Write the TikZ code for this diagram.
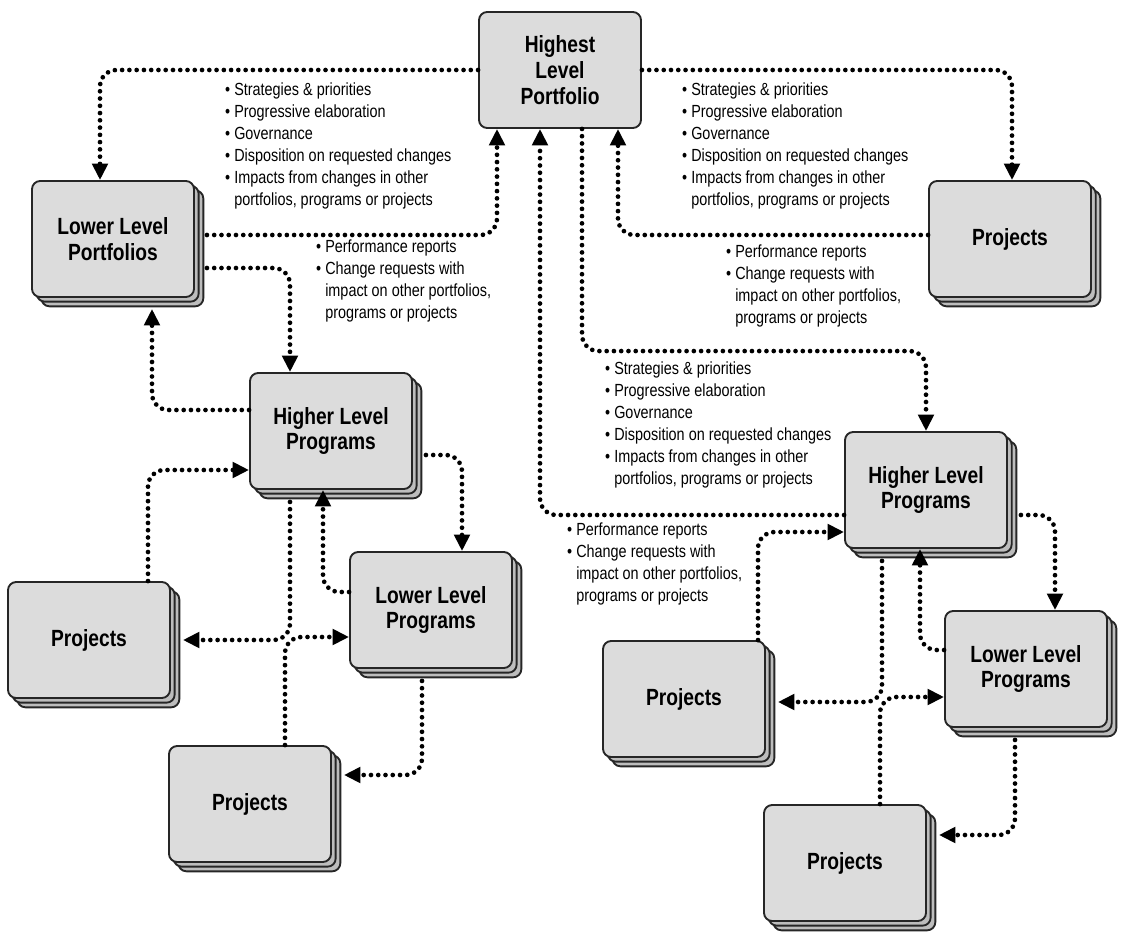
\documentclass[tikz,border=0pt]{standalone}
\usepackage{fontspec}
\setmainfont{Liberation Sans}[FakeStretch=0.82]
\usetikzlibrary{arrows.meta,calc,shadows}
\definecolor{boxfill}{HTML}{DCDCDC}
\definecolor{backfill}{HTML}{BDBDBD}
\begin{document}
\begin{tikzpicture}[x=0.03cm,y=-0.03cm,
  box/.style={draw=black!85,line width=1.6pt,rounded corners=7pt,fill=boxfill,
    minimum width=4.86cm,minimum height=3.48cm,align=center,
    font=\fontsize{20}{22}\selectfont\bfseries},
  stack/.style={box,double copy shadow={shadow xshift=0.14cm,shadow yshift=-0.14cm,
    fill=backfill,draw=black!85,line width=1.6pt}},
  con/.style={line width=4pt,line cap=round,dash pattern=on 0pt off 6.2pt,
    rounded corners=14pt,-{Triangle[length=14pt,width=13pt]}},
  lst/.style={anchor=north west,align=left,inner sep=0pt,
    font=\fontsize{15}{18.7}\selectfont}]
\useasboundingbox (0,0) rectangle (1130,932);
% nodes
\node[box] (hp) at (560,70) {Highest\\Level\\Portfolio};
\node[stack] (llp) at (113,239) {Lower Level\\Portfolios};
\node[stack] (ptr) at (1010,239) {Projects};
\node[stack] (hlpl) at (331,431) {Higher Level\\Programs};
\node[stack] (llpl) at (431,610) {Lower Level\\Programs};
\node[stack] (pl) at (89,640) {Projects};
\node[stack] (pbl) at (250,804) {Projects};
\node[stack] (hlpr) at (926,490) {Higher Level\\Programs};
\node[stack] (llpr) at (1026,669) {Lower Level\\Programs};
\node[stack] (prm) at (684,699) {Projects};
\node[stack] (pbr) at (845,863) {Projects};
% connectors
\draw[con] (hp.west) -| ($(llp.north)+(-13,0)$);
\draw[con] ($(llp.east)+(12,-4)$) -| ($(hp.south)+(-63,0)$);
\draw[con] (hp.east) -| ($(ptr.north)+(2,0)$);
\draw[con] ($(ptr.west)+(0,-4)$) -| ($(hp.south)+(58,0)$);
\draw[con] ($(llp.east)+(12,29)$) -| ($(hlpl.north)+(-41,0)$);
\draw[con] ($(hlpl.west)+(0,-21)$) -| ($(llp.south)+(39,11)$);
\draw[con] ($(hp.south)+(22,0)$) |- ($(hlpr.north)+(0,-80)$) -- (hlpr.north);
\draw[con] ($(hlpr.west)+(0,25)$) -| ($(hp.south)+(-20,0)$);
\draw[con] ($(hlpl.east)+(13,24)$) -| ($(llpl.north)+(31,0)$);
\draw[con] ($(llpl.west)+(0,-18)$) -| ($(hlpl.south)+(-8,0)$);
\draw[con] ($(pl.north)+(59,0)$) |- ($(hlpl.west)+(0,39)$);
\draw[con] ($(hlpl.south)+(-41,12)$) |- ($(pl.east)+(12,0)$);
\draw[con] ($(pbl.north)+(35,0)$) |- ($(llpl.west)+(0,27)$);
\draw[con] ($(llpl.south)+(-9,12)$) |- ($(pbl.east)+(12,-29)$);
\draw[con] ($(hlpr.east)+(13,25)$) -| ($(llpr.north)+(29,0)$);
\draw[con] ($(llpr.west)+(0,-19)$) -| ($(hlpr.south)+(-6,0)$);
\draw[con] ($(prm.north)+(74,0)$) |- ($(hlpr.west)+(0,42)$);
\draw[con] ($(hlpr.south)+(-44,12)$) |- ($(prm.east)+(12,3)$);
\draw[con] ($(pbr.north)+(35,0)$) |- ($(llpr.west)+(0,28)$);
\draw[con] ($(llpr.south)+(-11,12)$) |- ($(pbr.east)+(12,-28)$);
% texts
\newcommand\bul{\textbullet\ }
\newcommand\ind{\phantom{\textbullet\ }}
\node[lst] (t1) at (225,83) {\bul Strategies \& priorities\\\bul Progressive elaboration\\\bul Governance\\\bul Disposition on requested changes\\\bul Impacts from changes in other\\\ind portfolios, programs or projects};
\node[lst] (t2) at (682,83) {\bul Strategies \& priorities\\\bul Progressive elaboration\\\bul Governance\\\bul Disposition on requested changes\\\bul Impacts from changes in other\\\ind portfolios, programs or projects};
\node[lst] (t3) at (605,362) {\bul Strategies \& priorities\\\bul Progressive elaboration\\\bul Governance\\\bul Disposition on requested changes\\\bul Impacts from changes in other\\\ind portfolios, programs or projects};
\node[lst] (t4) at (316,240) {\bul Performance reports\\\bul Change requests with\\\ind impact on other portfolios,\\\ind programs or projects};
\node[lst] (t5) at (726,245) {\bul Performance reports\\\bul Change requests with\\\ind impact on other portfolios,\\\ind programs or projects};
\node[lst] (t6) at (567,523) {\bul Performance reports\\\bul Change requests with\\\ind impact on other portfolios,\\\ind programs or projects};
\end{tikzpicture}
\end{document}
